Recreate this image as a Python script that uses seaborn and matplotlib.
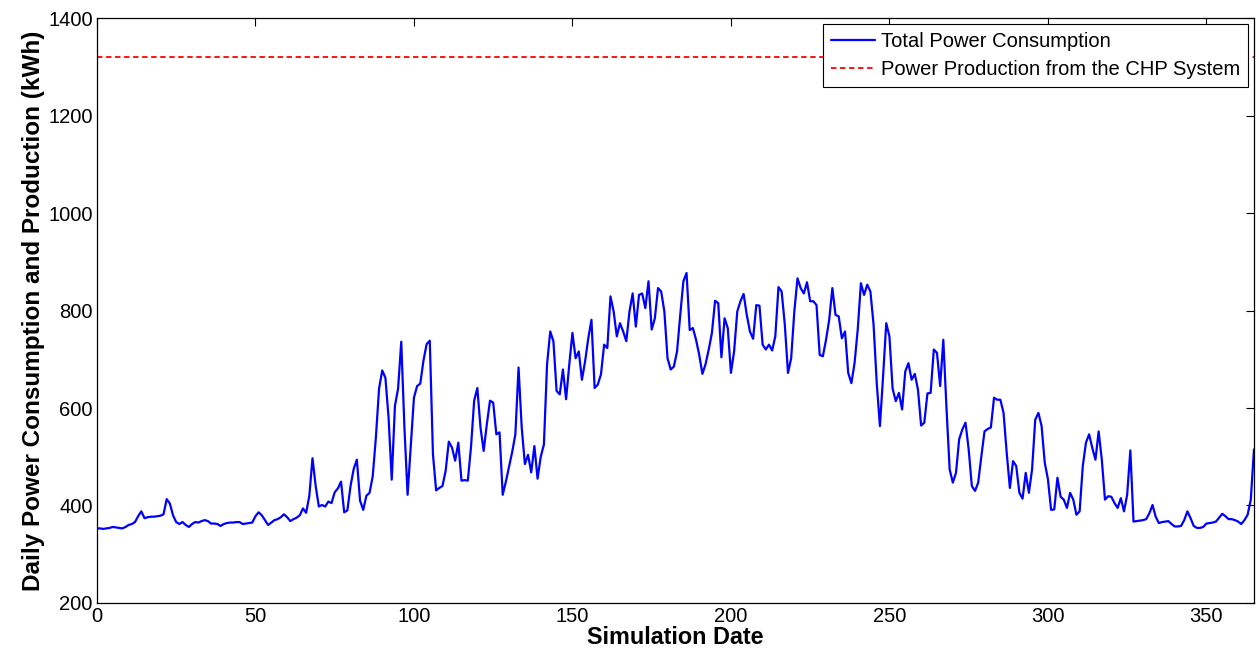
import numpy as np
import pandas as pd
import matplotlib
matplotlib.use("Agg")
import matplotlib.pyplot as plt
import seaborn as sns

# Daily total power consumption (kWh), days 0..365
consumption = [
    353, 353, 352, 353, 354, 356, 355, 354, 353, 356,
    360, 362, 366, 378, 388, 374, 376, 377, 377, 378,
    379, 382, 413, 404, 380, 366, 362, 366, 360, 356,
    362, 366, 365, 368, 370, 368, 363, 363, 362, 358,
    362, 364, 365, 365, 366, 366, 362, 363, 364, 365,
    378, 386, 380, 370, 360, 365, 370, 372, 376, 382,
    376, 368, 372, 375, 380, 394, 385, 420, 497, 440,
    398, 401, 398, 408, 405, 427, 435, 449, 386, 390,
    440, 475, 494, 410, 391, 420, 426, 460, 540, 640,
    677, 662, 580, 453, 604, 640, 736, 560, 422, 520,
    621, 645, 650, 697, 731, 738, 505, 431, 436, 440,
    471, 531, 519, 492, 529, 451, 452, 451, 520, 615,
    641, 560, 512, 567, 615, 611, 546, 550, 422, 449,
    480, 510, 546, 683, 560, 485, 504, 468, 522, 455,
    500, 525, 690, 757, 737, 635, 628, 679, 618, 689,
    754, 702, 716, 658, 696, 743, 781, 641, 648, 669,
    730, 723, 829, 798, 747, 774, 757, 737, 798, 835,
    767, 832, 835, 805, 860, 761, 784, 846, 839, 798,
    702, 679, 685, 716, 790, 860, 877, 760, 764, 740,
    709, 670, 690, 720, 754, 820, 815, 704, 784, 764,
    672, 716, 798, 819, 834, 791, 757, 742, 811, 810,
    730, 720, 730, 718, 747, 848, 839, 771, 672, 702,
    798, 866, 846, 835, 858, 819, 819, 811, 709, 706,
    740, 781, 846, 791, 788, 743, 757, 672, 651, 692,
    761, 856, 832, 853, 839, 771, 651, 563, 665, 774,
    747, 640, 614, 631, 597, 675, 692, 658, 670, 638,
    564, 570, 630, 631, 720, 713, 645, 740, 600, 474,
    447, 467, 536, 556, 570, 515, 440, 430, 447, 501,
    552, 557, 560, 621, 617, 617, 590, 508, 436, 491,
    481, 426, 414, 467, 426, 474, 576, 590, 563, 488,
    454, 391, 392, 457, 418, 412, 395, 426, 412, 381,
    388, 481, 529, 546, 518, 494, 552, 494, 412, 419,
    418, 405, 395, 415, 388, 422, 513, 367, 368, 369,
    370, 372, 384, 401, 377, 364, 366, 367, 368, 362,
    357, 357, 358, 370, 388, 374, 358, 354, 354, 356,
    363, 364, 365, 367, 375, 383, 378, 372, 372, 370,
    367, 362, 370, 381, 412, 515,
]
days = list(range(len(consumption)))
chp_production = 1320

x_ticks = [0, 50, 100, 150, 200, 250, 300, 350]
y_ticks = [200, 400, 600, 800, 1000, 1200, 1400]

sns.set_style("white")
plt.rcParams['font.family'] = ['Liberation Sans', 'DejaVu Sans']
plt.rcParams['text.color'] = 'black'
plt.rcParams['axes.labelcolor'] = 'black'

fig = plt.figure(figsize=(12.59, 6.58), dpi=100)
ax = fig.add_axes([0.077, 0.0836, 0.919, 0.889])

df = pd.DataFrame({"day": days, "kwh": consumption})
sns.lineplot(data=df, x="day", y="kwh", ax=ax, color="#0000ff", lw=1.6,
             label="Total Power Consumption")
chp_df = pd.DataFrame({"day": [0, 365], "kwh": [chp_production, chp_production]})
sns.lineplot(data=chp_df, x="day", y="kwh", ax=ax, color="#ff0000", lw=1.3,
             linestyle=(0, (3, 2)), label="Power Production from the CHP System")

ax.set_xlim(0, 365)
ax.set_ylim(200, 1400)
ax.set_xticks(x_ticks)
ax.set_yticks(y_ticks)
ax.tick_params(direction="in", length=6, width=0.8, top=True, right=True,
               labelsize=14.5, colors="black", pad=3)
for s in ax.spines.values():
    s.set_color("black")
    s.set_linewidth(0.9)
ax.set_xlabel("Simulation Date", fontsize=16.8, fontweight="bold", labelpad=0,
              color="black")
ax.set_ylabel("Daily Power Consumption and Production (kWh)", fontsize=17.5,
              fontweight="bold", labelpad=2, color="black")
leg = ax.legend(loc="upper right", fontsize=14.5, frameon=True, fancybox=False,
                edgecolor="black", borderpad=0.4, labelspacing=0.45,
                handlelength=2.15, handletextpad=0.3, borderaxespad=0.3,
                framealpha=1)
leg.get_frame().set_linewidth(0.8)

fig.savefig("out.png", dpi=100)
